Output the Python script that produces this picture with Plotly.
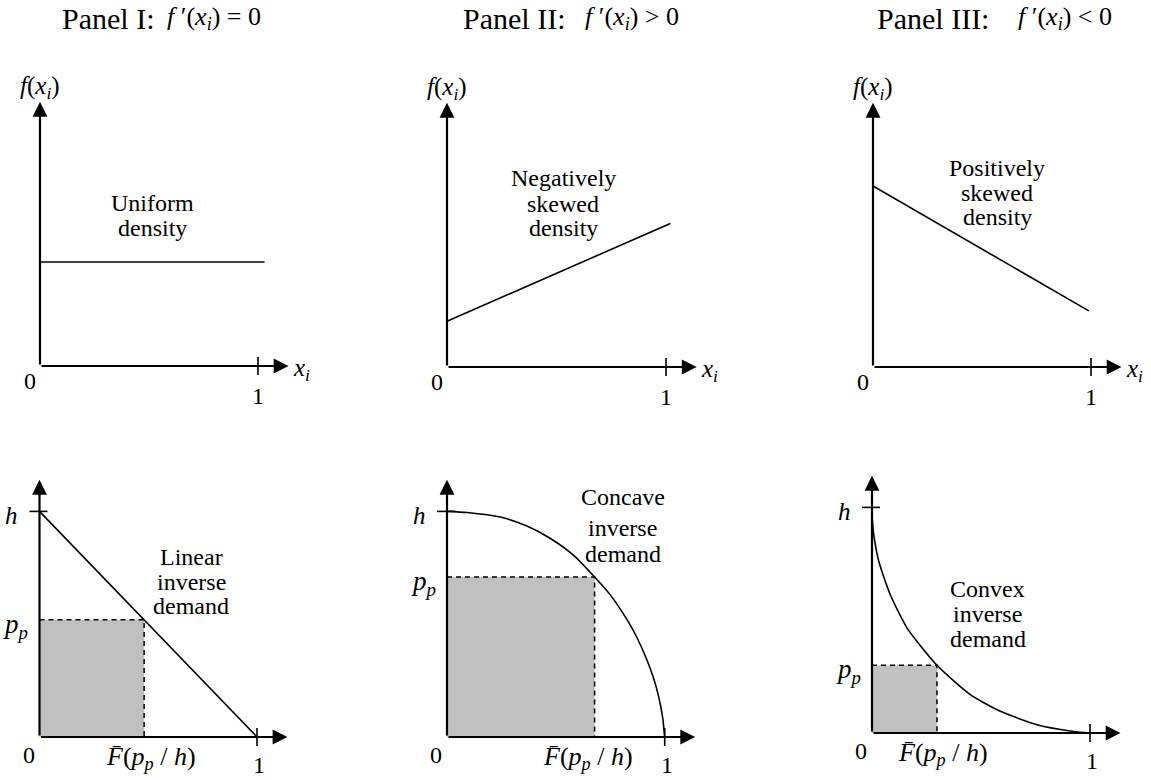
import plotly.graph_objects as go

W, H = 1151, 780
FONT = "Liberation Serif"

# ---- data ----
titles = ["Panel I:", "Panel II:", "Panel III:"]
title_math = [
    "<i>f</i> ′(<i>x</i><sub><i>i</i></sub>) = 0",
    "<i>f</i> ′(<i>x</i><sub><i>i</i></sub>) &gt; 0",
    "<i>f</i> ′(<i>x</i><sub><i>i</i></sub>) &lt; 0",
]

# top row: densities f(x_i), uniform height = 1
uni_x = [0, 1.03]
uni_y = [1.0, 1.0]
neg_x = [0, 1.02]
neg_y = [0.44, 1.38]
pos_x = [0, 0.99]
pos_y = [1.74, 0.54]
dens_labels = [["Uniform", "density"],
               ["Negatively", "skewed", "density"],
               ["Positively", "skewed", "density"]]

# bottom row: inverse demand (price / h) against quantity
lin_q = [0, 1.0]
lin_p = [1.0, 0]
concave_q = [0, 0.092, 0.245, 0.367, 0.475, 0.582, 0.678, 0.75, 0.827, 0.873,
             0.919, 0.949, 0.972, 0.99, 1.0]
concave_p = [1.0, 0.995, 0.975, 0.935, 0.88, 0.805, 0.709, 0.63, 0.52, 0.44,
             0.34, 0.26, 0.18, 0.09, 0]
convex_q = [0, 0.008, 0.031, 0.084, 0.161, 0.298, 0.451, 0.589, 0.757, 0.924, 1.0]
convex_p = [0.96, 0.879, 0.761, 0.613, 0.465, 0.300, 0.170, 0.096, 0.037, 0.007, 0]
demand_labels = [["Linear", "inverse", "demand"],
                 ["Concave", "inverse", "demand"],
                 ["Convex", "inverse", "demand"]]
pp = [0.52, 0.709, 0.30]      # p_p / h
fq = [0.481, 0.678, 0.298]    # F-bar(p_p / h)

# ---- geometry (pixels): origin, unit lengths, box ----
panels = [
    dict(ox=40, oy=366, ux=218, uy=104, box=(0, 55, 360, 420)),
    dict(ox=447, oy=367, ux=219, uy=104, box=(407, 55, 767, 420)),
    dict(ox=873, oy=367, ux=218, uy=104, box=(833, 55, 1151, 420)),
    dict(ox=39.5, oy=737, ux=217.5, uy=225.6, box=(0, 450, 360, 780)),
    dict(ox=447, oy=737, ux=217.7, uy=225.6, box=(407, 450, 767, 780)),
    dict(ox=872, oy=733, ux=218, uy=225.6, box=(833, 450, 1151, 780)),
]
top_tips = (1.14, 2.54)
bot_tips = (1.14, 1.14)

fig = go.Figure()
layout = {}
annotations = []
shapes = []


def refs(i):
    return ("x" if i == 0 else f"x{i+1}"), ("y" if i == 0 else f"y{i+1}")


for i, p in enumerate(panels):
    x0, y0, x1, y1 = p["box"]
    xn = "xaxis" if i == 0 else f"xaxis{i+1}"
    yn = "yaxis" if i == 0 else f"yaxis{i+1}"
    xr, yr = refs(i)
    layout[xn] = dict(domain=[x0 / W, x1 / W],
                      range=[(x0 - p["ox"]) / p["ux"], (x1 - p["ox"]) / p["ux"]],
                      visible=False, anchor=yr, fixedrange=True)
    layout[yn] = dict(domain=[1 - y1 / H, 1 - y0 / H],
                      range=[(p["oy"] - y1) / p["uy"], (p["oy"] - y0) / p["uy"]],
                      visible=False, anchor=xr, fixedrange=True)

line_style = dict(color="black", width=1.6)

# top row curves
for i, (xs, ys) in enumerate([(uni_x, uni_y), (neg_x, neg_y), (pos_x, pos_y)]):
    xr, yr = refs(i)
    fig.add_trace(go.Scatter(x=xs, y=ys, mode="lines", line=line_style,
                             xaxis=xr, yaxis=yr, hoverinfo="skip"))

# bottom row: shaded revenue boxes, dashed guides, demand curves
curves = [(lin_q, lin_p, "linear"), (concave_q, concave_p, "spline"),
          (convex_q, convex_p, "spline")]
for k, (qs, ps, shp) in enumerate(curves):
    i = k + 3
    xr, yr = refs(i)
    fig.add_trace(go.Scatter(x=[0, fq[k], fq[k], 0, 0], y=[0, 0, pp[k], pp[k], 0],
                             mode="lines", fill="toself", fillcolor="#c0c0c0",
                             line=dict(width=0), xaxis=xr, yaxis=yr, hoverinfo="skip"))
    fig.add_trace(go.Scatter(x=[0, fq[k], fq[k]], y=[pp[k], pp[k], 0], mode="lines",
                             line=dict(color="black", width=1.5, dash="5px,4px"),
                             xaxis=xr, yaxis=yr, hoverinfo="skip"))
    fig.add_trace(go.Scatter(x=qs, y=ps, mode="lines",
                             line=dict(color="black", width=1.6, shape=shp, smoothing=0.6),
                             xaxis=xr, yaxis=yr, hoverinfo="skip"))

# axes with arrowheads and tick marks
for i, p in enumerate(panels):
    xr, yr = refs(i)
    tx, ty = top_tips if i < 3 else bot_tips
    for (ex, ey) in [(tx, 0), (0, ty)]:
        annotations.append(dict(x=ex, y=ey, ax=0, ay=0, xref=xr, yref=yr,
                                axref=xr, ayref=yr, text="", showarrow=True,
                                arrowhead=2, arrowsize=1.35, arrowwidth=2.2,
                                arrowcolor="black", standoff=0, startstandoff=0))
    d = 9 / p["uy"]
    shapes.append(dict(type="line", xref=xr, yref=yr, x0=1, x1=1, y0=-d, y1=d,
                       line=dict(color="black", width=1.6)))
    if i >= 3:
        shapes.append(dict(type="line", xref=xr, yref=yr, x0=-10 / p["ux"], x1=8 / p["ux"],
                           y0=1, y1=1, line=dict(color="black", width=1.6)))


def txt(xr, yr, x, y, text, size=24, xs=0, ys=0, xanchor="center"):
    annotations.append(dict(x=x, y=y, xref=xr, yref=yr, text=text, showarrow=False,
                            xshift=xs, yshift=ys, xanchor=xanchor, yanchor="middle",
                            font=dict(family=FONT, size=size, color="black")))


fx = "<i>f</i>(<i>x</i><sub><i>i</i></sub>)"
xi = "<i>x</i><sub><i>i</i></sub>"
pp_lab = "<i>p</i><sub><i>p</i></sub>"
fbar = "<i>F̄</i>(<i>p</i><sub><i>p</i></sub> / <i>h</i>)"

# top row labels
dens_pos_lab = [(0.518, [1.567, 1.327]), (0.53, [1.817, 1.567, 1.337]),
                (0.569, [1.913, 1.673, 1.442])]
for i in range(3):
    xr, yr = refs(i)
    txt(xr, yr, 0, top_tips[1], fx, size=25, ys=14)
    txt(xr, yr, top_tips[0], 0, xi, size=25, xs=2, ys=-3, xanchor="left")
    txt(xr, yr, 0, 0, "0", xs=-10, ys=-15)
    txt(xr, yr, 1, 0, "1", xs=0, ys=-30)
    lx, lys = dens_pos_lab[i]
    for line, ly in zip(dens_labels[i], lys):
        txt(xr, yr, lx, ly, line)

# bottom row labels
dem_pos_lab = [(0.697, [0.798, 0.687, 0.581]), (0.808, [1.064, 0.926, 0.811]),
               (0.532, [0.638, 0.527, 0.417])]
fbar_shift = [7, -7, 6]
for k in range(3):
    i = k + 3
    xr, yr = refs(i)
    txt(xr, yr, 0, 1, "<i>h</i>", size=25, xs=-28, ys=-4)
    txt(xr, yr, 0, pp[k], pp_lab, size=27, xs=-24, ys=-6)
    txt(xr, yr, 0, 0, "0", xs=-11, ys=-18)
    txt(xr, yr, 1, 0, "1", xs=2, ys=-28)
    txt(xr, yr, fq[k], 0, fbar, size=26, xs=fbar_shift[k], ys=-21)
    lx, lys = dem_pos_lab[k]
    for line, ly in zip(demand_labels[k], lys):
        txt(xr, yr, lx, ly, line)

# panel titles
title_left = [60, 461, 875]
math_left = [165, 583, 1016]
for k in range(3):
    annotations.append(dict(x=title_left[k] / W, y=1 - 18 / H, xref="paper", yref="paper",
                            text=titles[k], showarrow=False, xanchor="left", yanchor="middle",
                            font=dict(family=FONT, size=30, color="black")))
    annotations.append(dict(x=math_left[k] / W, y=1 - 18 / H, xref="paper", yref="paper",
                            text=title_math[k], showarrow=False, xanchor="left",
                            yanchor="middle",
                            font=dict(family=FONT, size=26, color="black")))

fig.update_layout(width=W, height=H, margin=dict(l=0, r=0, t=0, b=0),
                  paper_bgcolor="white", plot_bgcolor="white", showlegend=False,
                  annotations=annotations, shapes=shapes, **layout)

fig.write_html("out.html", config={"displayModeBar": False},
               post_script="document.body.style.margin = '0';")
